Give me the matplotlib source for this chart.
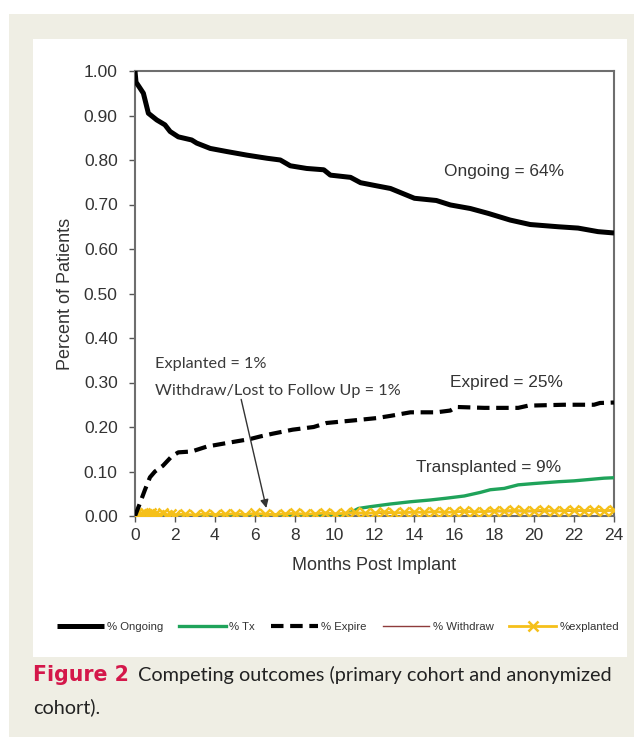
import matplotlib
matplotlib.use("Agg")
import matplotlib.pyplot as plt
from matplotlib.patches import Rectangle

# ---------------- data ----------------
ongoing_months = [0, 0.05, 0.2, 0.42, 0.67, 1.09, 1.5, 1.76, 2.17, 2.84, 3.09, 3.77, 4.6, 5.6, 6.6,
                  7.28, 7.78, 8.6, 9.46, 9.79, 10.8, 11.3, 12.1, 12.8, 14.0, 15.1, 15.8, 16.8,
                  17.7, 18.8, 19.8, 21.2, 22.2, 23.2, 24.0]
ongoing_vals = [1.00, 0.975, 0.965, 0.95, 0.905, 0.89, 0.879, 0.864, 0.852, 0.845, 0.838, 0.826,
                0.819, 0.811, 0.804, 0.80, 0.787, 0.781, 0.778, 0.766, 0.761, 0.749, 0.742, 0.736,
                0.714, 0.709, 0.699, 0.691, 0.680, 0.665, 0.655, 0.650, 0.647, 0.639, 0.636]

expire_months = [0, 0.25, 0.5, 0.75, 1.0, 1.4, 1.84, 2.17, 2.84, 3.6, 4.6, 5.77, 6.3, 6.9, 7.9,
                 8.95, 9.6, 11.0, 12.1, 12.8, 13.8, 15.1, 15.8, 16.1, 17.5, 19.2, 19.7, 21.5,
                 23.0, 23.3, 24.0]
expire_vals = [0.0, 0.029, 0.059, 0.087, 0.10, 0.113, 0.134, 0.143, 0.145, 0.156, 0.164, 0.173,
               0.179, 0.185, 0.194, 0.20, 0.209, 0.215, 0.22, 0.225, 0.233, 0.233, 0.237, 0.245,
               0.243, 0.243, 0.248, 0.25, 0.25, 0.254, 0.255]

tx_months = [0, 10.0, 10.5, 10.9, 11.2, 11.8, 12.8, 13.8, 14.8, 15.6, 16.5, 17.3, 17.8, 18.5,
             19.2, 20.0, 21.2, 22.0, 23.0, 23.5, 24.0]
tx_vals = [0.0, 0.0, 0.003, 0.01, 0.017, 0.021, 0.027, 0.032, 0.036, 0.04, 0.045, 0.053, 0.059,
           0.062, 0.07, 0.073, 0.077, 0.079, 0.083, 0.085, 0.086]

withdraw_months = [0, 2, 4, 6, 8, 10, 12, 14, 16, 18, 20, 22, 24]
withdraw_vals = [0.0, 0.002, 0.003, 0.004, 0.004, 0.005, 0.006, 0.008, 0.009, 0.010, 0.010,
                 0.011, 0.012]

explant_months = [0, 0.1, 0.2, 0.3, 0.4, 0.5, 0.6, 0.7, 0.8, 0.9, 1.0, 1.2, 1.4, 1.6, 1.8, 2.0,
                  2.5, 3, 3.5, 4, 4.5, 5, 5.5, 6, 6.5, 7, 7.5, 8, 8.5, 9, 9.5, 10, 10.5, 11,
                  11.5, 12, 12.5, 13, 13.5, 14, 14.5, 15, 15.5, 16, 16.5, 17, 17.5, 18, 18.5,
                  19, 19.5, 20, 20.5, 21, 21.5, 22, 22.5, 23, 23.5, 24]
explant_vals = [0.002, 0.006, 0.001, 0.005, 0.003, 0.007, 0.002, 0.004, 0.006, 0.001, 0.005,
                0.003, 0.006, 0.002, 0.005, 0.003, 0.004, 0.002, 0.005, 0.003, 0.004, 0.005,
                0.003, 0.006, 0.004, 0.003, 0.005, 0.006, 0.004, 0.005, 0.007, 0.005, 0.006,
                0.008, 0.006, 0.007, 0.009, 0.007, 0.008, 0.009, 0.008, 0.010, 0.008, 0.009,
                0.011, 0.009, 0.010, 0.012, 0.011, 0.013, 0.011, 0.012, 0.013, 0.011, 0.012,
                0.013, 0.012, 0.013, 0.012, 0.013]

series_labels = ["% Ongoing", "% Tx", "% Expire", "% Withdraw", "%explanted"]
x_ticks = list(range(0, 25, 2))
y_ticks = [0.0, 0.1, 0.2, 0.3, 0.4, 0.5, 0.6, 0.7, 0.8, 0.9, 1.0]

# ---------------- figure ----------------
W, H = 634, 737
fig = plt.figure(figsize=(W / 100, H / 100), dpi=100)
fig.patch.set_facecolor("white")

beige = "#efeee4"
fig.add_artist(Rectangle((9 / W, 0), 1 - 9 / W, 1 - 14 / H, transform=fig.transFigure,
                         facecolor=beige, edgecolor="none", zorder=-10))
fig.add_artist(Rectangle((33 / W, 1 - 657 / H), (627 - 33) / W, (657 - 39) / H,
                         transform=fig.transFigure, facecolor="white", edgecolor="none",
                         zorder=-9))

ax_l, ax_r, ax_t, ax_b = 135, 614, 71, 516
ax = fig.add_axes([ax_l / W, 1 - ax_b / H, (ax_r - ax_l) / W, (ax_b - ax_t) / H])
ax.set_facecolor("white")

sans = ["Liberation Sans", "DejaVu Sans"]
tick_font = dict(family=sans, size=12.5)
ax.plot(ongoing_months, ongoing_vals, color="black", lw=3.6, solid_capstyle="butt",
        solid_joinstyle="round", label=series_labels[0], zorder=5)
ax.plot(tx_months, tx_vals, color="#1fa35a", lw=2.4, label=series_labels[1], zorder=4)
ax.plot(expire_months, expire_vals, color="black", lw=3.0, dashes=(3.0, 1.6),
        label=series_labels[2], zorder=5)
ax.plot(withdraw_months, withdraw_vals, color="#8e3b3b", lw=1.0, label=series_labels[3],
        zorder=3)
ax.plot(explant_months, explant_vals, color="#f5c01a", lw=2.0, marker="x", markersize=7,
        markeredgewidth=1.8, label=series_labels[4], zorder=4)

ax.set_xlim(0, 24)
ax.set_ylim(0, 1.0)
ax.set_xticks(x_ticks)
ax.set_yticks(y_ticks)
ax.set_xticklabels([str(t) for t in x_ticks], **tick_font, color="#333333")
ax.set_yticklabels([f"{t:.2f}" for t in y_ticks], **tick_font, color="#333333")
ax.tick_params(axis="both", direction="out", length=4.5, width=1.0, colors="#555555")
ax.tick_params(axis="x", pad=4, labelcolor="#333333")
ax.tick_params(axis="y", pad=8, labelcolor="#333333")
for s in ax.spines.values():
    s.set_color("#6e6e6e")
    s.set_linewidth(1.5)

ax.set_xlabel("Months Post Implant", family=sans, size=13, color="#333333")
ax.set_ylabel("Percent of Patients", family=sans, size=13, color="#333333")
ax.xaxis.set_label_coords(0.5, -(565 - ax_b) / (ax_b - ax_t))
ax.xaxis.label.set_va("center")
ax.yaxis.set_label_coords(-(ax_l - 65) / (ax_r - ax_l), 0.5)
ax.yaxis.label.set_va("center")

ann_font = dict(family=sans, size=12.4, color="#333333")
ax.text(18.5, 0.774, "Ongoing = 64%", ha="center", va="center", **ann_font)
ax.text(18.6, 0.301, "Expired = 25%", ha="center", va="center", **ann_font)
ax.text(17.7, 0.110, "Transplanted = 9%", ha="center", va="center", **ann_font)

note_font = dict(family=["Lato", "DejaVu Sans"], size=11.7, color="#3a3a3a")
ax.text(1.0, 0.342, "Explanted = 1%", ha="left", va="center", **note_font)
ax.text(1.0, 0.281, "Withdraw/Lost to Follow Up = 1%", ha="left", va="center", **note_font)
ax.annotate("", xy=(6.58, 0.018), xytext=(5.32, 0.262),
            arrowprops=dict(arrowstyle="-|>", color="#333333", lw=1.0,
                            mutation_scale=12, shrinkA=0, shrinkB=0), zorder=6)

handles, labels = ax.get_legend_handles_labels()
leg = fig.legend(handles, labels, loc="center", bbox_to_anchor=(338 / W, 1 - 627 / H),
                 ncol=5, frameon=False, handlelength=4.1, handletextpad=0.3,
                 columnspacing=1.4, prop=dict(family=sans, size=8.2))
for t in leg.get_texts():
    t.set_color("#333333")

# caption
fig.canvas.draw()
t1 = fig.text(33 / W, 1 - 675 / H, "Figure 2", color="#d4174a", weight="bold",
              va="center", ha="left", family=["DejaVu Sans"], size=14.8)
fig.canvas.draw()
bb = t1.get_window_extent()
cap_font = dict(family=["Lato", "DejaVu Sans"], size=14.3)
fig.text((bb.x1 + 9) / W, 1 - 675 / H, "Competing outcomes (primary cohort and anonymized",
         color="#222222", va="center", ha="left", **cap_font)
fig.text(33 / W, 1 - 707 / H, "cohort).", color="#222222", va="center", ha="left", **cap_font)

fig.savefig("out.png", dpi=100, facecolor=fig.get_facecolor())
